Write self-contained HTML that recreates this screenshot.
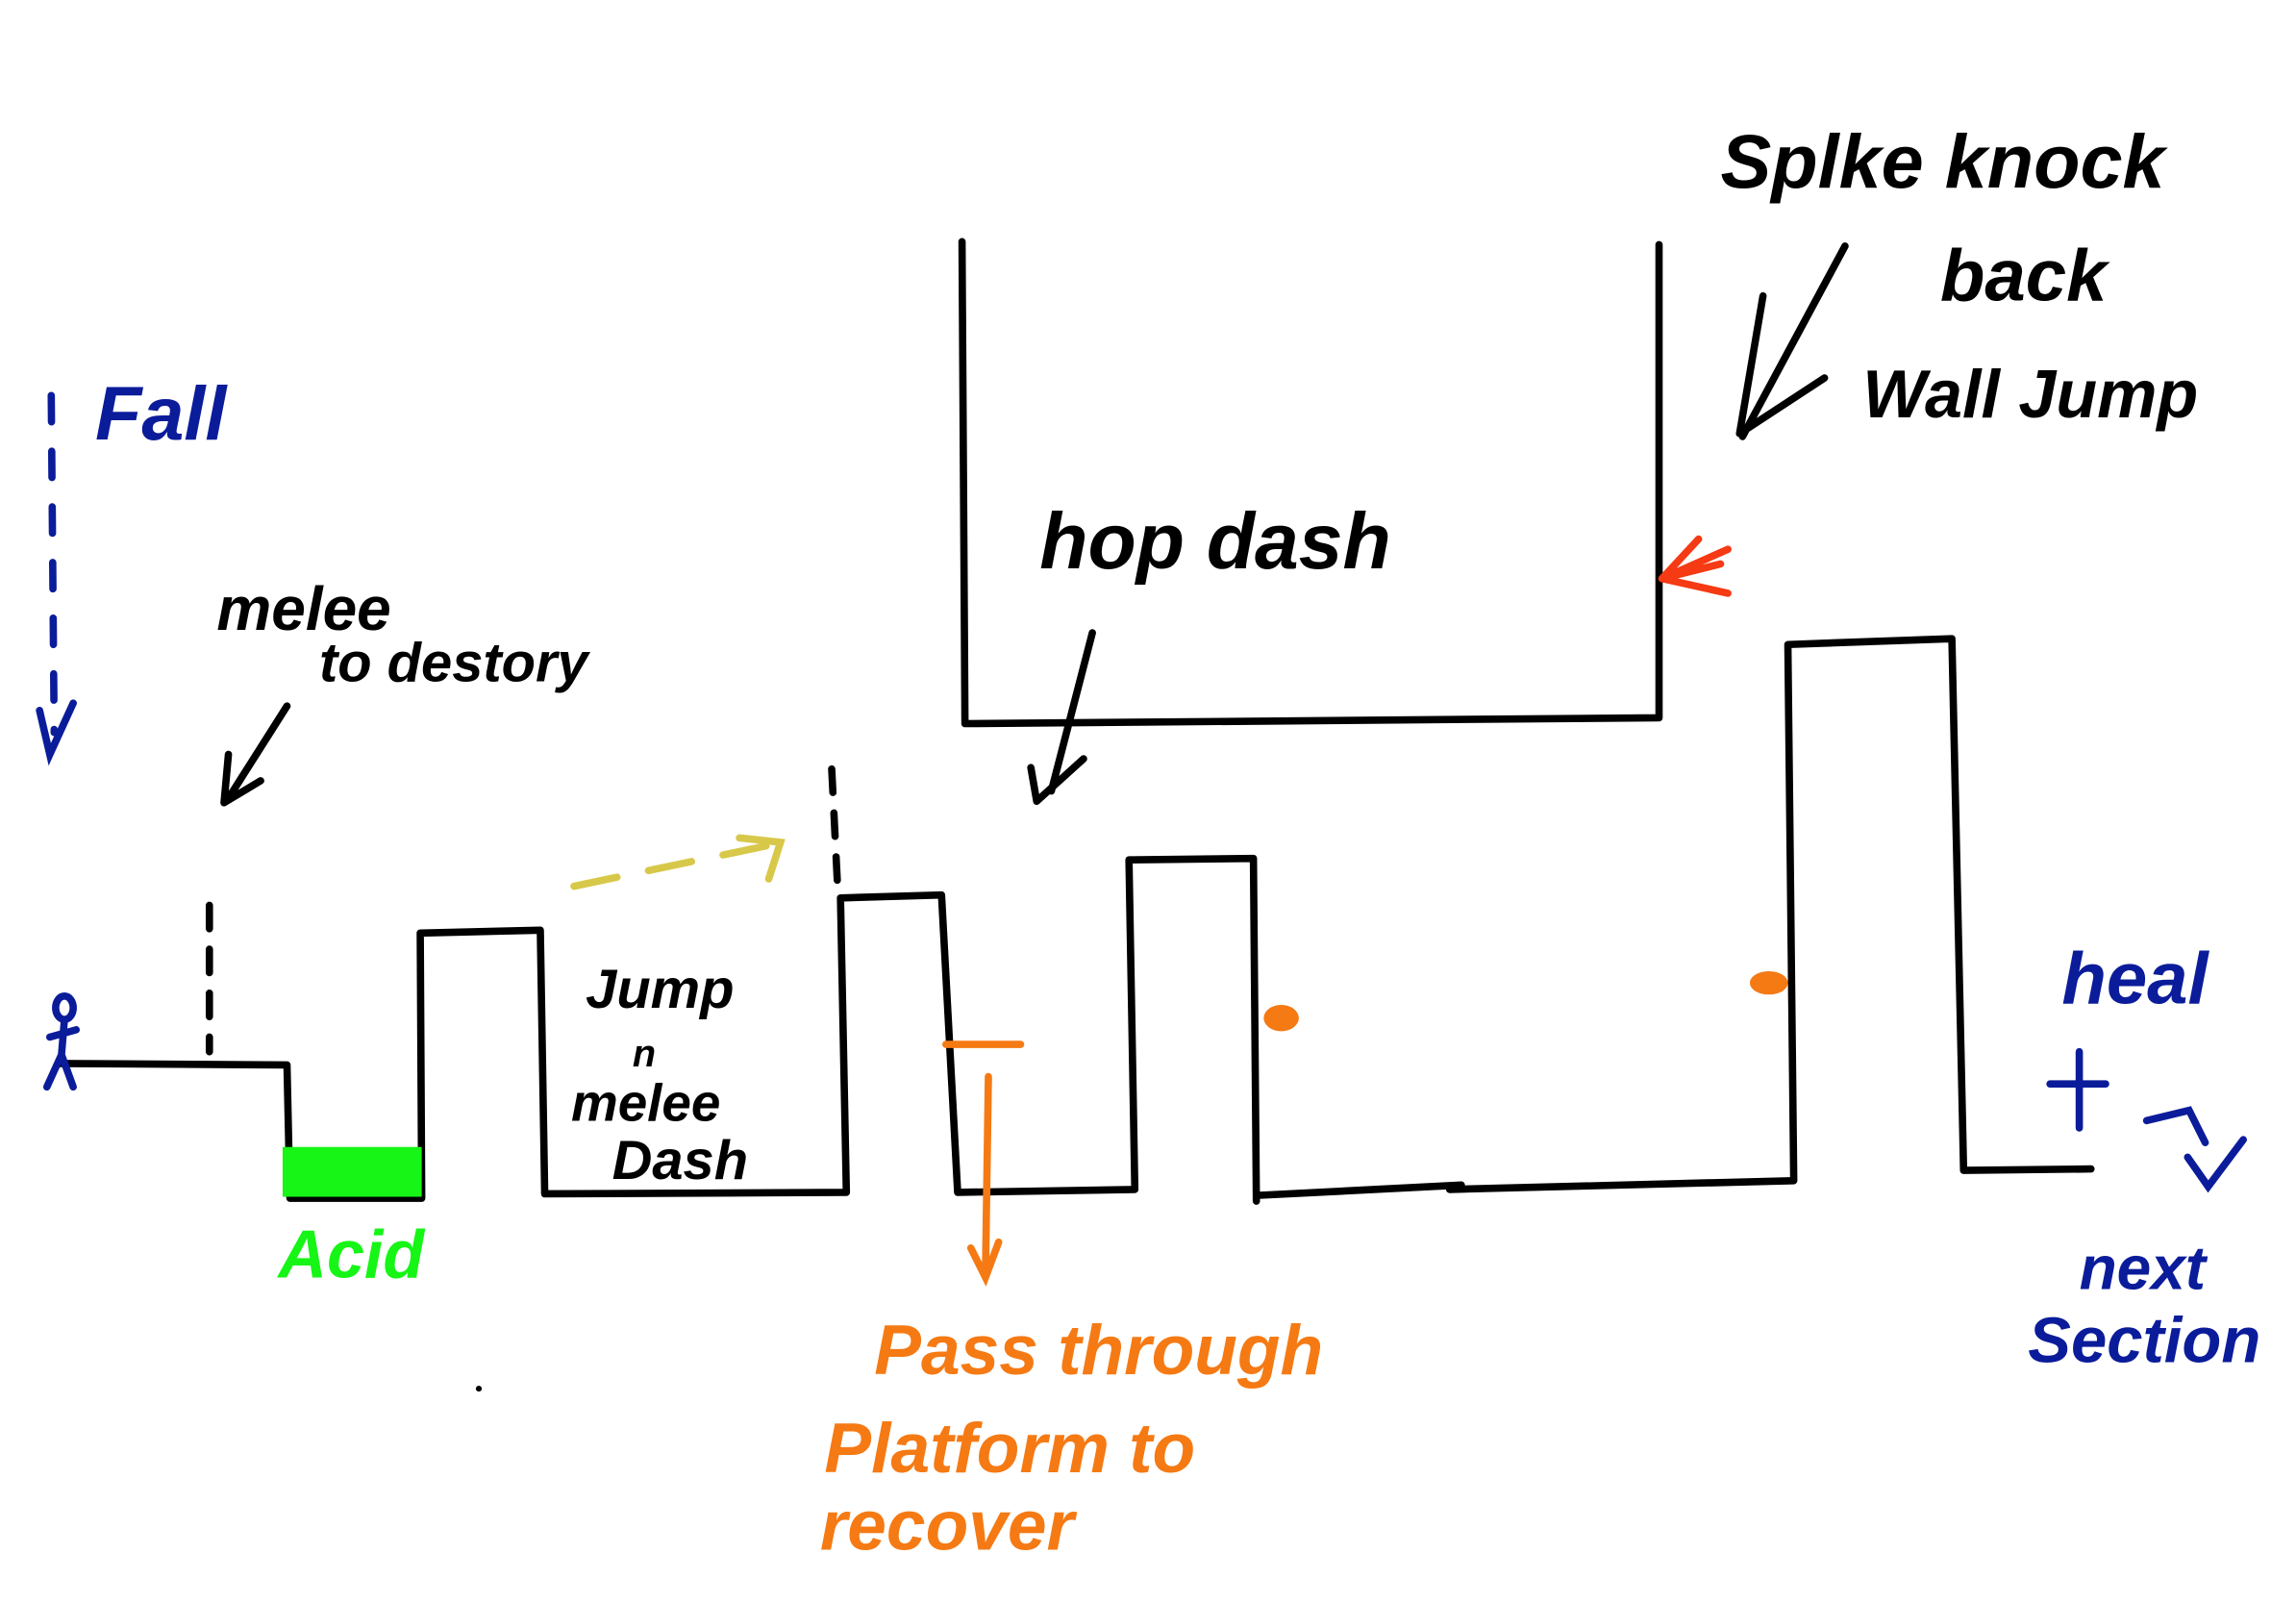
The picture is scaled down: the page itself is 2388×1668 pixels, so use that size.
<!DOCTYPE html>
<html><head><meta charset="utf-8"><style>
html,body{margin:0;padding:0;background:#fff;width:2388px;height:1668px;overflow:hidden}
svg{display:block}
text{font-family:"Liberation Sans",sans-serif;font-weight:bold;font-style:italic}
</style></head><body>
<svg width="2388" height="1668" viewBox="0 0 1568 1095" preserveAspectRatio="none" xmlns="http://www.w3.org/2000/svg">
<rect width="1568" height="1095" fill="#fff"/>
<g fill="none" stroke="#000" stroke-width="5" stroke-linecap="round" stroke-linejoin="round">
<polyline points="40,726 196,727 198,818 288,818 287,637 369,635 372,815 578,814 574,613 643,611 654,814 775,812 771,587 856,586 858,820"/>
<polyline points="860,816 998,809"/>
<polyline points="990,812 1225,806 1221,440 1333,436 1341,799 1428,798"/>
<polyline points="657,165 659,494 1133,490 1133,167"/>
<polyline points="143,618 143,718" stroke-dasharray="16,14"/>
<polyline points="568,525 572,605" stroke-dasharray="16,14"/>
<path d="M196,482 L156,545 M156,515 L153,548 L178,533"/>
<path d="M1260,168 L1190,298 M1204,202 L1188,296 L1246,258"/>
<path d="M746,432 L718,540 M704,524 L708,547 L740,518"/>
</g>
<rect x="193" y="783" width="95" height="34" fill="#16f516"/>
<g fill="none" stroke="#f57a14" stroke-width="5" stroke-linecap="round">
<line x1="646" y1="713" x2="697" y2="713"/>
<path d="M675,735 L673,870 M663,852 L673,872 L682,848"/>
</g>
<ellipse cx="875" cy="695" rx="12" ry="9" fill="#f57a14"/>
<ellipse cx="1208" cy="671" rx="13" ry="8" fill="#f57a14"/>
<g stroke="#f53a14" stroke-width="5" fill="none" stroke-linecap="round">
<path d="M1135,395 L1180,375 M1135,395 L1175,385 M1135,395 L1180,405 M1135,395 L1160,368"/>
</g>
<g stroke="#0b1c9a" stroke-width="5" fill="none" stroke-linecap="round">
<polyline points="35,270 37,500" stroke-dasharray="18,20"/>
<polyline points="27,485 34,515 50,480"/>
<ellipse cx="44" cy="688" rx="6" ry="8"/>
<path d="M44,696 L42,720 L32,742 M42,720 L50,742 M34,708 L52,703"/>
<path d="M1400,740 L1438,740 M1420,718 L1420,770"/>
<path d="M1466,765 L1495,758 L1506,780 M1494,790 L1508,810 L1532,778"/>
</g>
<g stroke="#d8c84a" stroke-width="5" fill="none" stroke-linecap="round">
<polyline points="392,605 535,575" stroke-dasharray="30,22"/>
<polyline points="505,572 533,575 525,600"/>
</g>
<g fill="#000">
<text x="148" y="430" font-size="42">melee</text>
<text x="218" y="465" font-size="38">to destory</text>
<text x="400" y="688" font-size="38">Jump</text>
<text x="432" y="728" font-size="26">n</text>
<text x="390" y="765" font-size="36">melee</text>
<text x="418" y="805" font-size="38">Dash</text>
<text x="710" y="388" font-size="54">hop dash</text>
<text x="1175" y="128" font-size="52">Splke knock</text>
<text x="1325" y="205" font-size="50">back</text>
<text x="1272" y="285" font-size="46">Wall Jump</text>
</g>
<g fill="#0b1c9a">
<text x="65" y="300" font-size="52">Fall</text>
<text x="1408" y="685" font-size="50">heal</text>
<text x="1420" y="880" font-size="42">next</text>
<text x="1385" y="930" font-size="44">Section</text>
</g>
<text x="190" y="872" font-size="46" fill="#16f516">Acid</text>
<g fill="#f57a14">
<text x="597" y="938" font-size="48">Pass through</text>
<text x="563" y="1005" font-size="48">Platform to</text>
<text x="560" y="1058" font-size="48">recover</text>
</g>
<circle cx="327" cy="948" r="2" fill="#000"/>
</svg>
</body></html>
